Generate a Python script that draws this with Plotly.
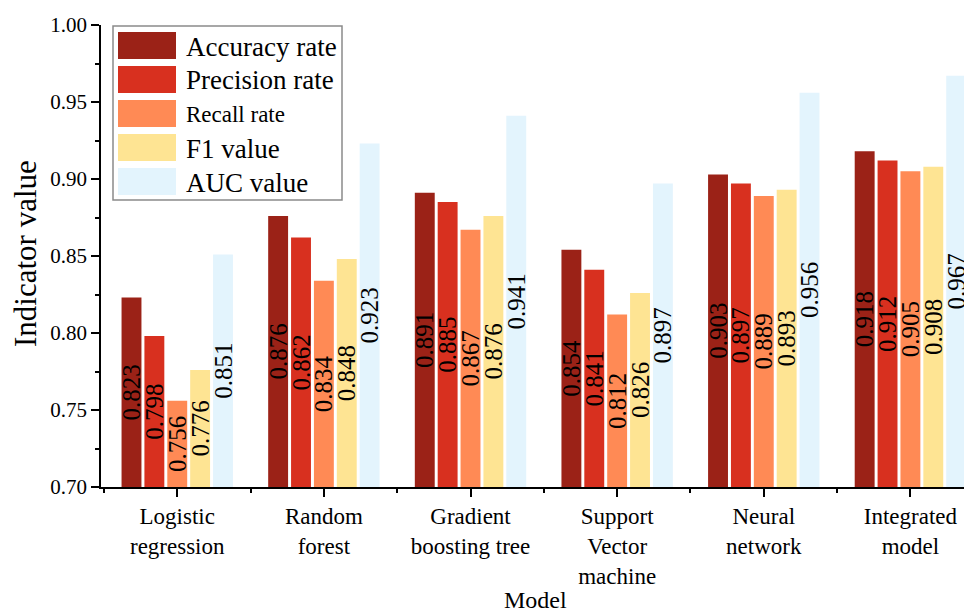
import plotly.graph_objects as go

models = ["Logistic<br>regression", "Random<br>forest", "Gradient<br>boosting tree",
          "Support<br>Vector<br>machine", "Neural<br>network", "Integrated<br>model"]
series_names = ["Accuracy rate", "Precision rate", "Recall rate", "F1 value", "AUC value"]
accuracy = [0.823, 0.876, 0.891, 0.854, 0.903, 0.918]
precision = [0.798, 0.862, 0.885, 0.841, 0.897, 0.912]
recall = [0.756, 0.834, 0.867, 0.812, 0.889, 0.905]
f1 = [0.776, 0.848, 0.876, 0.826, 0.893, 0.908]
auc = [0.851, 0.923, 0.941, 0.897, 0.956, 0.967]
y_ticks = [0.70, 0.75, 0.80, 0.85, 0.90, 0.95, 1.00]

colors = ["#9B2217", "#D8301F", "#FF8A55", "#FEE493", "#E3F4FD"]
series_values = [accuracy, precision, recall, f1, auc]
BASE = 0.70
FONT = "Liberation Serif, Times New Roman, serif"

x = list(range(len(models)))
fig = go.Figure()
for name, vals, col in zip(series_names, series_values, colors):
    fig.add_trace(go.Bar(
        x=x, y=[v - BASE for v in vals], base=BASE, name=name,
        marker=dict(color=col, line=dict(width=0)),
        text=[f"{v:.3f}" for v in vals], textposition="inside",
        insidetextanchor="middle", textangle=-90, constraintext="none",
        textfont=dict(family=FONT, size=25, color="black"),
        showlegend=False, cliponaxis=False,
    ))

# page body has an 8px margin in the browser
OFF = 8
W, H = 972 - OFF, 614 - OFF
ml, mr, mt, mb = 101 - OFF, 0, 25 - OFF, H - (487 - OFF)
pw, ph = W - ml - mr, H - mt - mb


def px(xp):
    # reference screen pixel -> paper x
    return (xp - OFF - ml) / pw


def py(yp):
    # reference screen pixel -> paper y
    return (H - mb - (yp - OFF)) / ph


shapes = []
annotations = []
# legend with large swatches
shapes.append(dict(type="rect", xref="paper", yref="paper",
                   x0=px(113), x1=px(342), y0=py(200), y1=py(26),
                   line=dict(color="#8a8a8a", width=1.5), fillcolor="white", layer="above"))
row_top, row_step, sw_h = 32, 34, 27
for i, (name, col) in enumerate(zip(series_names, colors)):
    t = row_top + i * row_step
    shapes.append(dict(type="rect", xref="paper", yref="paper",
                       x0=px(118), x1=px(176), y0=py(t + sw_h), y1=py(t),
                       line=dict(width=0), fillcolor=col, layer="above"))
    annotations.append(dict(xref="paper", yref="paper", x=px(184), y=py(t + sw_h / 2 + 1),
                            xanchor="left", yanchor="middle", showarrow=False,
                            text=name,
                            font=dict(family=FONT, size=23 if name == "Recall rate" else 27,
                                      color="black")))

annotations.append(dict(xref="paper", yref="paper", x=px(25), y=py(254), text="Indicator value",
                        textangle=-90, showarrow=False, xanchor="center", yanchor="middle",
                        font=dict(family=FONT, size=31, color="black")))
annotations.append(dict(xref="paper", yref="paper", x=px(535), y=py(600), text="Model",
                        showarrow=False, xanchor="center", yanchor="middle",
                        font=dict(family=FONT, size=24, color="black")))

fig.update_layout(
    width=W, height=H,
    margin=dict(l=ml, r=mr, t=mt, b=mb, autoexpand=False),
    paper_bgcolor="white", plot_bgcolor="white",
    barmode="group", bargap=0.22, bargroupgap=0.13,
    font=dict(family=FONT, color="black"),
    shapes=shapes, annotations=annotations,
    showlegend=False,
)
fig.update_xaxes(
    range=[-0.52, 5.42], tickmode="array", tickvals=x, ticktext=models,
    ticks="outside", ticklen=8, tickwidth=1.5, tickcolor="black",
    showline=True, linecolor="black", linewidth=1.5, showgrid=False, zeroline=False,
    tickfont=dict(family=FONT, size=23, color="black"),
    minor=dict(tickmode="linear", tick0=0.5, dtick=1, ticks="outside", ticklen=4,
               tickwidth=1.5, tickcolor="black", showgrid=False),
)
fig.update_yaxes(
    range=[0.70, 1.00], tickmode="array", tickvals=y_ticks,
    ticktext=[f"{v:.2f}" for v in y_ticks],
    ticks="outside", ticklen=8, tickwidth=1.5, tickcolor="black",
    showline=True, linecolor="black", linewidth=1.5, showgrid=False, zeroline=False,
    tickfont=dict(family=FONT, size=21, color="black"),
    minor=dict(tickmode="linear", tick0=0.725, dtick=0.05, ticks="outside", ticklen=4,
               tickwidth=1.5, tickcolor="black", showgrid=False),
)

fig.write_html("out.html")
